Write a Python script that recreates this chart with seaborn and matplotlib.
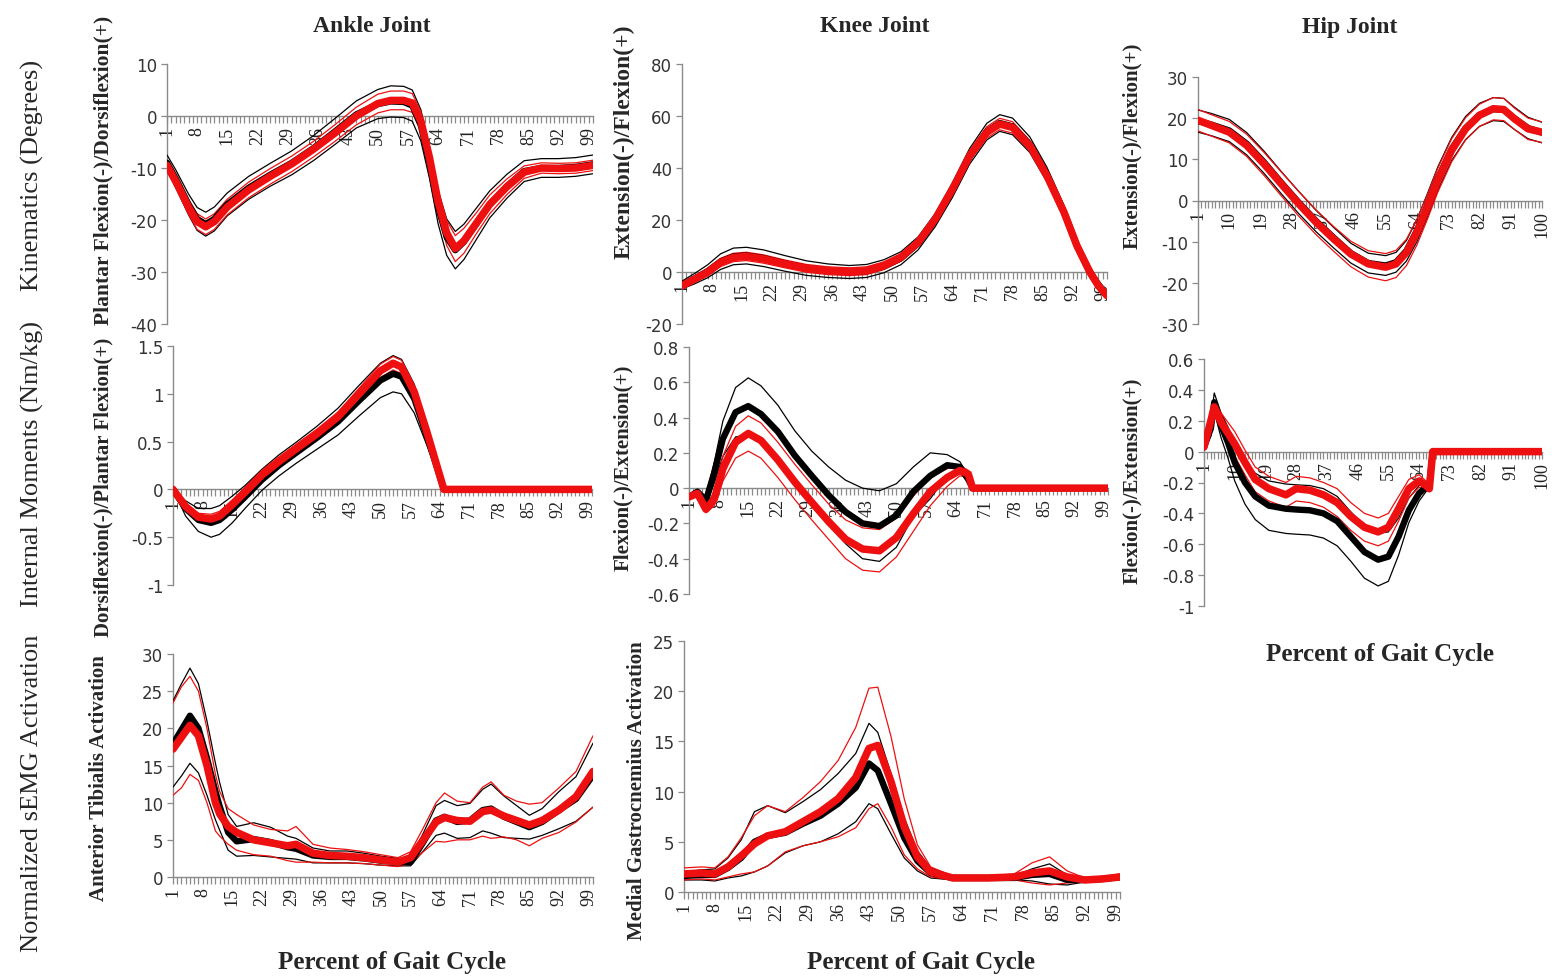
import numpy as np
import matplotlib
matplotlib.use("Agg")
import matplotlib.pyplot as plt
import seaborn as sns

# ---- data (knot positions in % gait cycle) ----
# black = group 1 (mean, sd), red = group 2 (mean, sd)

X_ANKLE_KIN = [1, 3, 6, 8, 10, 12, 15, 20, 25, 30, 35, 40, 45, 50, 53, 56, 58, 60, 62, 64,
               66, 68, 70, 73, 76, 80, 84, 88, 92, 96, 100]
ANKLE_KIN_B = [-9.0, -12.0, -17.0, -19.8, -20.8, -19.8, -17.0, -13.8, -11.3, -9.0, -6.2, -3.0,
               0.3, 2.3, 2.8, 2.7, 2.0, -1.8, -9.0, -17.5, -23.3, -25.8, -24.2, -20.6, -17.0,
               -13.5, -10.6, -10.0, -10.0, -9.8, -9.3]
ANKLE_KIN_B_SD = [1.5, 1.7, 2.0, 2.2, 2.3, 2.3, 2.2, 2.2, 2.2, 2.3, 2.4, 2.5, 2.6, 2.8, 3.0, 3.0,
                  3.0, 3.0, 3.0, 3.2, 3.5, 3.6, 3.4, 3.0, 2.6, 2.3, 2.0, 1.8, 1.8, 1.8, 1.8]
ANKLE_KIN_R = [-9.5, -12.5, -17.5, -20.3, -21.3, -20.3, -17.5, -14.2, -11.6, -9.2, -6.4, -3.3,
               0.0, 2.4, 3.0, 3.0, 2.5, -1.0, -8.0, -16.5, -22.5, -25.5, -24.0, -20.5, -17.0,
               -13.6, -10.8, -10.0, -10.1, -10.0, -9.5]
ANKLE_KIN_R_SD = [1.0, 1.2, 1.4, 1.5, 1.5, 1.5, 1.5, 1.5, 1.5, 1.5, 1.5, 1.6, 1.7, 1.8, 1.8, 1.8,
                  1.8, 1.8, 2.0, 2.2, 2.4, 2.5, 2.4, 2.0, 1.8, 1.5, 1.2, 1.0, 1.0, 1.0, 1.0]

X_KNEE_KIN = [1, 4, 7, 10, 13, 16, 20, 25, 30, 35, 40, 44, 48, 52, 56, 60, 64, 68, 72, 75,
              78, 82, 86, 90, 93, 96, 98, 100]
KNEE_KIN_B = [-5.0, -2.5, 0.3, 4.0, 6.0, 6.3, 5.3, 3.3, 1.5, 0.5, 0.0, 0.4, 2.2, 5.3, 11.0,
              20.0, 31.5, 44.5, 54.0, 57.3, 56.0, 49.0, 37.5, 23.0, 10.0, 0.0, -5.0, -9.0]
KNEE_KIN_B_SD = [1.5, 2.0, 2.5, 3.0, 3.2, 3.2, 3.2, 3.0, 2.8, 2.6, 2.5, 2.5, 2.5, 2.5, 2.5, 2.5,
                 2.8, 3.0, 3.2, 3.2, 3.2, 3.0, 2.8, 2.5, 2.2, 2.0, 1.8, 1.5]
KNEE_KIN_R = [-5.3, -2.7, 0.0, 3.7, 5.6, 6.0, 5.0, 3.1, 1.4, 0.5, 0.1, 0.5, 2.4, 5.6, 11.4,
              20.4, 31.9, 44.7, 53.7, 56.9, 55.6, 48.6, 37.0, 22.9, 10.1, 0.0, -5.3, -9.1]
KNEE_KIN_R_SD = [1.0, 1.2, 1.5, 1.6, 1.6, 1.6, 1.6, 1.5, 1.5, 1.5, 1.5, 1.5, 1.5, 1.5, 1.5, 1.6,
                 1.8, 2.0, 2.2, 2.2, 2.2, 2.0, 1.8, 1.6, 1.5, 1.4, 1.3, 1.2]

X_HIP_KIN = [1, 5, 10, 15, 20, 25, 30, 35, 40, 45, 50, 55, 58, 61, 64, 67, 70, 74, 78, 82,
             86, 89, 92, 96, 100]
HIP_KIN_B = [19.3, 18.4, 17.0, 13.8, 9.3, 4.3, -0.5, -5.0, -9.0, -12.8, -15.2, -15.8, -15.0,
             -12.2, -7.3, -1.2, 5.3, 12.5, 17.6, 20.8, 22.2, 22.0, 20.0, 17.6, 16.5]
HIP_KIN_B_SD = [2.7, 2.7, 2.7, 2.7, 2.7, 2.7, 2.7, 2.6, 2.5, 2.4, 2.4, 2.4, 2.4, 2.5, 2.7, 2.8,
                2.8, 2.8, 2.8, 2.8, 2.8, 2.8, 2.7, 2.6, 2.5]
HIP_KIN_R = [19.5, 18.2, 16.6, 13.4, 8.9, 4.0, -0.8, -5.3, -9.3, -13.0, -15.4, -16.2, -15.4,
             -12.6, -7.7, -1.6, 4.9, 12.2, 17.4, 20.7, 22.3, 22.1, 19.9, 17.4, 16.6]
HIP_KIN_R_SD = [2.6, 2.6, 2.6, 2.7, 2.8, 2.9, 3.0, 3.0, 3.0, 3.1, 3.2, 3.3, 3.3, 3.2, 3.1, 3.0,
                2.9, 2.8, 2.7, 2.7, 2.7, 2.7, 2.6, 2.6, 2.5]

X_ANKLE_MOM = [1, 4, 7, 10, 12, 15, 18, 22, 26, 30, 35, 40, 45, 50, 53, 55, 58, 61, 63, 65, 100]
ANKLE_MOM_B = [0.0, -0.2, -0.32, -0.35, -0.32, -0.21, -0.08, 0.1, 0.25, 0.38, 0.54, 0.71, 0.93,
               1.14, 1.21, 1.18, 0.95, 0.56, 0.28, 0.0, 0.0]
ANKLE_MOM_B_SD = [0.0, 0.08, 0.12, 0.15, 0.15, 0.14, 0.12, 0.11, 0.11, 0.11, 0.12, 0.14, 0.16,
                  0.18, 0.19, 0.18, 0.15, 0.1, 0.06, 0.0, 0.0]
ANKLE_MOM_R = [0.0, -0.18, -0.29, -0.31, -0.28, -0.16, -0.03, 0.15, 0.29, 0.42, 0.58, 0.76, 1.0,
               1.24, 1.32, 1.28, 1.02, 0.6, 0.3, 0.0, 0.0]
ANKLE_MOM_R_SD = [0.0, 0.03, 0.04, 0.05, 0.05, 0.05, 0.05, 0.05, 0.05, 0.05, 0.05, 0.05, 0.06,
                  0.07, 0.07, 0.07, 0.06, 0.05, 0.03, 0.0, 0.0]

X_KNEE_MOM = [1, 3, 5, 7, 9, 12, 15, 18, 22, 26, 30, 34, 38, 42, 46, 50, 54, 58, 62, 65, 67, 68, 100]
KNEE_MOM_B = [-0.05, -0.02, -0.07, 0.09, 0.28, 0.43, 0.465, 0.42, 0.32, 0.185, 0.07, -0.04,
              -0.135, -0.2, -0.215, -0.155, -0.02, 0.07, 0.13, 0.12, 0.05, 0.0, 0.0]
KNEE_MOM_B_SD = [0.0, 0.01, 0.02, 0.06, 0.1, 0.14, 0.16, 0.16, 0.15, 0.14, 0.14, 0.16, 0.18,
                 0.2, 0.2, 0.18, 0.14, 0.13, 0.06, 0.03, 0.02, 0.0, 0.0]
KNEE_MOM_R = [-0.05, -0.03, -0.12, -0.06, 0.11, 0.26, 0.31, 0.27, 0.16, 0.035, -0.08, -0.19,
              -0.29, -0.345, -0.355, -0.28, -0.145, -0.02, 0.06, 0.1, 0.08, 0.0, 0.0]
KNEE_MOM_R_SD = [0.0, 0.01, 0.02, 0.04, 0.07, 0.09, 0.1, 0.1, 0.1, 0.1, 0.1, 0.1, 0.11, 0.12,
                 0.12, 0.11, 0.1, 0.08, 0.05, 0.03, 0.02, 0.0, 0.0]

X_HIP_MOM = [1, 3, 4, 6, 8, 10, 13, 16, 20, 25, 28, 32, 36, 40, 44, 48, 52, 55, 58, 61, 64,
             66, 67, 68, 100]
HIP_MOM_B = [0.03, 0.15, 0.32, 0.17, 0.06, -0.07, -0.2, -0.29, -0.35, -0.37, -0.375, -0.38,
             -0.4, -0.45, -0.55, -0.65, -0.7, -0.68, -0.55, -0.38, -0.27, -0.23, -0.22, 0.0, 0.0]
HIP_MOM_B_SD = [0.02, 0.05, 0.06, 0.08, 0.1, 0.12, 0.14, 0.15, 0.16, 0.16, 0.16, 0.16, 0.16,
                0.16, 0.16, 0.17, 0.17, 0.16, 0.12, 0.08, 0.05, 0.03, 0.02, 0.0, 0.0]
HIP_MOM_R = [0.03, 0.2, 0.29, 0.19, 0.12, 0.05, -0.07, -0.18, -0.24, -0.28, -0.24, -0.25,
             -0.28, -0.33, -0.42, -0.49, -0.52, -0.49, -0.37, -0.24, -0.19, -0.22, -0.24, 0.0, 0.0]
HIP_MOM_R_SD = [0.01, 0.03, 0.04, 0.06, 0.07, 0.08, 0.08, 0.08, 0.08, 0.08, 0.08, 0.08, 0.08,
                0.09, 0.09, 0.09, 0.09, 0.09, 0.08, 0.06, 0.04, 0.03, 0.02, 0.0, 0.0]

X_TA = [1, 3, 5, 7, 9, 11, 12, 14, 16, 20, 24, 28, 30, 34, 38, 42, 46, 50, 54, 57, 60, 63,
        65, 68, 71, 74, 76, 79, 82, 85, 88, 92, 96, 100]
TA_B = [17.9, 19.8, 21.7, 20.0, 16.0, 11.5, 9.5, 6.0, 4.8, 5.1, 4.7, 4.0, 3.8, 2.9, 2.7, 2.7,
        2.5, 2.2, 2.0, 2.0, 4.7, 7.6, 8.1, 7.4, 7.6, 9.0, 9.2, 8.1, 7.4, 6.7, 7.4, 9.0, 10.5, 13.7]
TA_B_SD = [5.8, 6.2, 6.4, 6.0, 5.0, 3.8, 3.2, 2.4, 2.0, 2.2, 2.0, 1.5, 1.4, 1.0, 0.8, 0.8, 0.7,
           0.6, 0.5, 0.5, 1.2, 2.0, 2.2, 2.2, 2.3, 2.8, 3.3, 2.8, 2.2, 1.6, 1.8, 2.5, 3.0, 4.3]
TA_R = [17.2, 18.8, 20.4, 19.0, 15.0, 10.0, 8.5, 6.8, 6.0, 5.0, 4.6, 4.2, 4.4, 3.2, 2.9, 2.8,
        2.6, 2.3, 2.0, 2.6, 5.0, 7.4, 8.0, 7.6, 7.5, 8.8, 9.0, 8.2, 7.6, 7.0, 7.6, 9.0, 10.8, 14.2]
TA_R_SD = [6.2, 6.8, 6.6, 6.0, 5.0, 3.8, 3.0, 2.4, 2.4, 2.0, 1.8, 2.0, 2.4, 1.2, 1.0, 0.9, 0.8,
           0.7, 0.6, 0.8, 1.6, 2.6, 3.3, 2.6, 2.5, 3.3, 3.8, 2.8, 2.6, 2.8, 2.4, 3.0, 3.4, 4.8]

X_MG = [1, 5, 8, 11, 14, 17, 20, 24, 28, 32, 36, 40, 43, 45, 48, 51, 54, 57, 62, 70, 76, 80,
        84, 88, 92, 96, 100]
MG_B = [1.6, 1.7, 1.7, 2.4, 3.4, 5.0, 5.6, 5.9, 6.8, 7.6, 8.8, 10.4, 12.8, 12.1, 8.8, 5.4, 3.1,
        1.9, 1.4, 1.4, 1.4, 1.7, 1.8, 1.2, 1.2, 1.3, 1.5]
MG_B_SD = [0.4, 0.5, 0.6, 1.0, 1.8, 3.0, 3.0, 2.0, 2.2, 2.6, 3.0, 3.4, 4.0, 3.8, 3.0, 2.0, 1.0,
           0.5, 0.2, 0.2, 0.2, 0.6, 1.0, 0.5, 0.2, 0.2, 0.2]
MG_R = [1.8, 1.9, 1.8, 2.5, 3.6, 4.8, 5.6, 6.0, 7.0, 8.0, 9.3, 11.4, 14.3, 14.6, 11.0, 6.5, 3.5,
        2.0, 1.4, 1.4, 1.5, 1.9, 2.1, 1.5, 1.2, 1.3, 1.5]
MG_R_SD = [0.6, 0.6, 0.6, 1.0, 1.8, 2.8, 3.0, 2.0, 2.4, 3.0, 3.8, 5.0, 6.0, 5.8, 4.5, 2.8, 1.2,
           0.5, 0.2, 0.2, 0.3, 1.0, 1.4, 0.6, 0.2, 0.2, 0.3]

TICKS_7 = list(range(1, 101, 7))
TICKS_9 = list(range(1, 101, 9))

W, H = 1552, 979
RED = "#ee1010"
GRAY = "#8a8a8a"

sns.set_style("white")
plt.rcParams["font.family"] = ["Liberation Serif", "DejaVu Serif"]
plt.rcParams["axes.unicode_minus"] = False


def px_rect(x0, y0, x1, y1):
    return [x0 / W, 1 - y1 / H, (x1 - x0) / W, (y1 - y0) / H]


def fmt(v):
    s = f"{round(v, 2):g}"
    return "0" if s == "-0" else s


def draw_panel(ax, x, b, bsd, r, rsd, ylim, ystep, xt):
    x = np.asarray(x, dtype=float)
    b, bsd = np.asarray(b), np.asarray(bsd)
    r, rsd = np.asarray(r), np.asarray(rsd)
    # sd envelopes (thin)
    for m, s, c in [(b, bsd, "black"), (r, rsd, RED)]:
        for y in (m + s, m - s):
            sns.lineplot(x=x, y=y, ax=ax, color=c, linewidth=0.9,
                         estimator=None, sort=False, zorder=3)
    # means (thick)
    sns.lineplot(x=x, y=b, ax=ax, color="black", linewidth=4.6,
                 estimator=None, sort=False, zorder=4)
    sns.lineplot(x=x, y=r, ax=ax, color=RED, linewidth=5.4,
                 estimator=None, sort=False, zorder=5)

    ax.set_xlim(1, 100)
    ax.set_ylim(*ylim)
    ax.set_axisbelow(True)
    ax.spines[["top", "right"]].set_visible(False)
    ax.spines["bottom"].set_position(("data", 0))
    for sp in ("left", "bottom"):
        ax.spines[sp].set_color(GRAY)
        ax.spines[sp].set_linewidth(1.0)

    ax.set_xticks(range(1, 101), minor=True)
    ax.set_xticks(xt)
    ax.set_xticklabels([str(v) for v in xt], rotation=90, fontsize=13,
                       color="#222222", fontfamily="Liberation Serif")
    ax.tick_params(axis="x", which="both", bottom=True, direction="out", length=5,
                   width=0.9, color=GRAY, pad=2)

    yt = np.arange(ylim[0], ylim[1] + ystep / 2, ystep)
    ax.set_yticks(yt)
    ax.set_yticklabels([fmt(v) for v in yt], fontsize=12, color="#333333",
                       fontfamily="DejaVu Sans")
    ax.tick_params(axis="y", left=True, direction="out", length=4, width=0.9,
                   color=GRAY, pad=3)
    ax.set_xlabel("")
    ax.set_ylabel("")


fig = plt.figure(figsize=(W / 100, H / 100), dpi=100)

panels = [
    ((167, 65, 593, 325), X_ANKLE_KIN, ANKLE_KIN_B, ANKLE_KIN_B_SD, ANKLE_KIN_R, ANKLE_KIN_R_SD, (-40, 10), 10, TICKS_7),
    ((682, 65, 1107, 325), X_KNEE_KIN, KNEE_KIN_B, KNEE_KIN_B_SD, KNEE_KIN_R, KNEE_KIN_R_SD, (-20, 80), 20, TICKS_7),
    ((1198, 78, 1542, 325), X_HIP_KIN, HIP_KIN_B, HIP_KIN_B_SD, HIP_KIN_R, HIP_KIN_R_SD, (-30, 30), 10, TICKS_9),
    ((173, 347, 592, 586), X_ANKLE_MOM, ANKLE_MOM_B, ANKLE_MOM_B_SD, ANKLE_MOM_R, ANKLE_MOM_R_SD, (-1, 1.5), 0.5, TICKS_7),
    ((689, 348, 1108, 595), X_KNEE_MOM, KNEE_MOM_B, KNEE_MOM_B_SD, KNEE_MOM_R, KNEE_MOM_R_SD, (-0.6, 0.8), 0.2, TICKS_7),
    ((1204, 360, 1542, 607), X_HIP_MOM, HIP_MOM_B, HIP_MOM_B_SD, HIP_MOM_R, HIP_MOM_R_SD, (-1, 0.6), 0.2, TICKS_9),
    ((173, 655, 593, 878), X_TA, TA_B, TA_B_SD, TA_R, TA_R_SD, (0, 30), 5, TICKS_7),
    ((684, 642, 1120, 893), X_MG, MG_B, MG_B_SD, MG_R, MG_R_SD, (0, 25), 5, TICKS_7),
]

for rect, x, b, bsd, r, rsd, ylim, ystep, xt in panels:
    ax = fig.add_axes(px_rect(*rect))
    draw_panel(ax, x, b, bsd, r, rsd, ylim, ystep, xt)


def ftext(px, py, s, **kw):
    fig.text(px / W, 1 - py / H, s, ha="center", va="center", **kw)


# column titles
ftext(372, 27, "Ankle Joint", fontsize=17, fontweight="bold")
ftext(875, 27, "Knee Joint", fontsize=17, fontweight="bold")
ftext(1350, 27, "Hip Joint", fontsize=17, fontweight="bold")

# row labels
ftext(32, 175, "Kinematics (Degrees)", fontsize=19, rotation=90)
ftext(32, 464, "Internal Moments (Nm/kg)", fontsize=19, rotation=90)
ftext(32, 793, "Normalized sEMG Activation", fontsize=19, rotation=90)

# y-axis labels
ftext(103, 170, "Plantar Flexion(-)/Dorsiflexion(+)", fontsize=15.5, fontweight="bold", rotation=90)
ftext(624, 142, "Extension(-)/Flexion(+)", fontsize=17, fontweight="bold", rotation=90)
ftext(1132, 146, "Extension(-)/Flexion(+)", fontsize=15, fontweight="bold", rotation=90)
ftext(103, 487, "Dorsiflexion(-)/Plantar Flexion(+)", fontsize=15, fontweight="bold", rotation=90)
ftext(623, 468, "Flexion(-)/Extension(+)", fontsize=15, fontweight="bold", rotation=90)
ftext(1132, 481, "Flexion(-)/Extension(+)", fontsize=15, fontweight="bold", rotation=90)
ftext(99, 778, "Anterior Tibialis Activation", fontsize=15, fontweight="bold", rotation=90)
ftext(637, 791, "Medial Gastrocnemius Activation", fontsize=15, fontweight="bold", rotation=90)

# x-axis labels
ftext(392, 963, "Percent of Gait Cycle", fontsize=18, fontweight="bold")
ftext(921, 963, "Percent of Gait Cycle", fontsize=18, fontweight="bold")
ftext(1380, 655, "Percent of Gait Cycle", fontsize=18, fontweight="bold")

fig.savefig("out.png", dpi=100, facecolor="white")
